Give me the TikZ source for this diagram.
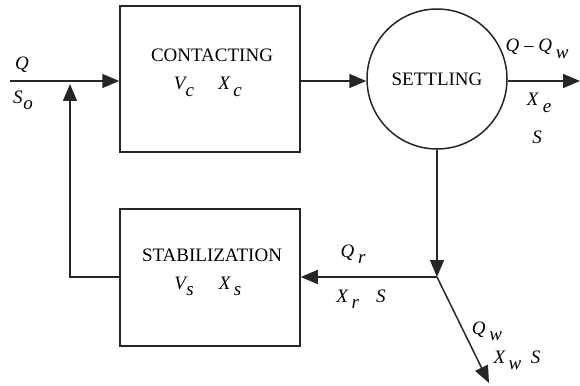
\documentclass[tikz,border=0pt]{standalone}
\usepackage{fontspec}
\setmainfont{Liberation Serif}[ItalicFont={Liberation Serif Italic}]
\usetikzlibrary{arrows.meta}
\newcommand{\vsub}[3][0.05em]{\textit{#2}\kern#1\raisebox{-0.35em}{\textit{#3}}}
\begin{document}
\begin{tikzpicture}[x=1pt,y=-1pt,
  line width=1.5pt, draw={black!85},
  font=\fontsize{19}{22}\selectfont,
  unit/.style={draw, line width=1.5pt, rectangle, minimum width=180pt, inner sep=0pt},
  tank/.style={draw, line width=1.5pt, circle, minimum size=140pt, inner sep=0pt},
  flow/.style={-{Triangle[length=17pt,width=14pt]}},
  lbl/.style={inner sep=0pt, anchor=base}]
\useasboundingbox (0,0) rectangle (580,385);
\node[unit, minimum height=146pt] (con) at (210,79) {};
\node[unit, minimum height=137pt] (stab) at (210,277.5) {};
\node[tank] (set) at (437,79) {SETTLING};
\coordinate (in) at (10,81);
\coordinate (out) at (580,81);
\coordinate (junc) at (437,277);
\coordinate (wout) at (489,383);
\coordinate (fbc) at (70,277);
\coordinate (fbtip) at (70,84);
% connectors
\draw[flow] (in) -- (con.west |- in);
\draw[flow] (con.east |- in) -- (set.west |- in);
\draw[flow] (set.east |- out) -- (out);
\draw[flow] (set.south) -- (junc);
\draw[flow] (junc) -- (stab.east |- junc);
\draw[flow] (junc) -- (wout);
\draw[flow] (stab.west |- fbc) -- (fbc) -- (fbtip);
% texts
\node[lbl] (t1) at (212,62) {CONTACTING};
\node[lbl] (t2) at (184,90) {\vsub[-0.08em]{V}{c}};
\node[lbl] (t3) at (230,90) {\vsub[0.15em]{X}{c}};
\node[lbl] (t4) at (212,261) {STABILIZATION};
\node[lbl] (t5) at (184,289) {\vsub[-0.08em]{V}{s}};
\node[lbl] (t6) at (230,289) {\vsub[0.15em]{X}{s}};
\node[lbl] (q) at (22,70) {\textit{Q}};
\node[lbl] (so) at (23,103) {\vsub{S}{o}};
\node[lbl] (qe) at (537,52) {\textit{Q} -- \vsub[0.2em]{Q}{w}};
\node[lbl] (xe) at (539,106) {\vsub[0.2em]{X}{e}};
\node[lbl] (se) at (537,143) {\textit{S}};
\node[lbl] (qr) at (353,257) {\vsub[0.2em]{Q}{r}};
\node[lbl] (xr) at (361,302) {\vsub[0.15em]{X}{r}\hspace{0.9em}\textit{S}};
\node[lbl] (qw) at (487,334) {\vsub[0.2em]{Q}{w}};
\node[lbl] (xw) at (517,363) {\vsub[0.15em]{X}{w}\hspace{0.5em}\textit{S}};
\end{tikzpicture}
\end{document}
